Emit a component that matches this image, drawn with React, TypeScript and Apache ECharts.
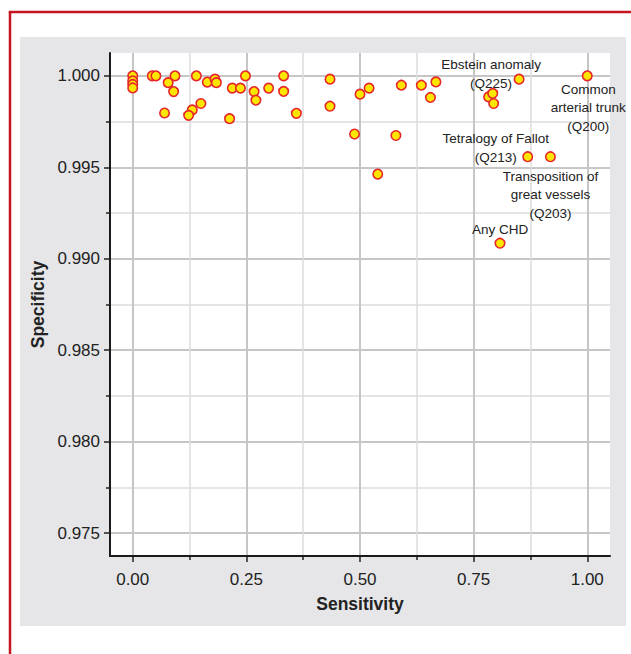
import React, { useEffect, useRef } from "react";
import * as echarts from "echarts";

// Sensitivity / specificity of each diagnosis code
const sensitivity = [
  0.0, 0.0, 0.0, 0.0, 0.043, 0.051, 0.093, 0.078, 0.09, 0.07,
  0.14, 0.164, 0.181, 0.184, 0.15, 0.131, 0.123, 0.248, 0.332, 0.434,
  0.219, 0.237, 0.267, 0.271, 0.299, 0.332, 0.213, 0.36, 0.434, 0.5,
  0.52, 0.591, 0.635, 0.667, 0.655, 0.488, 0.579, 0.539, 0.783, 0.792,
  0.794,
  // labelled points
  0.85, 1.0, 0.869, 0.919, 0.808,
];
const specificity = [
  1.0, 0.99973, 0.99953, 0.99934, 1.0, 1.0, 1.0, 0.99963, 0.99914, 0.99797,
  1.0, 0.99966, 0.99982, 0.99963, 0.99849, 0.99814, 0.99784, 1.0, 1.0, 0.99982,
  0.99933, 0.99933, 0.99914, 0.99867, 0.99933, 0.99915, 0.99766, 0.99795, 0.99834, 0.999,
  0.99933, 0.99949, 0.99949, 0.99967, 0.99882, 0.99682, 0.99674, 0.99463, 0.99885, 0.99904,
  0.99849,
  // labelled points
  0.99982, 1.0, 0.99558, 0.99558, 0.99085,
];
const pointLabels = [
  "Ebstein anomaly\n(Q225)",
  "Common\narterial trunk\n(Q200)",
  "Tetralogy of Fallot\n(Q213)",
  "Transposition of\ngreat vessels\n(Q203)",
  "Any CHD",
];
const xTickValues = [0, 0.25, 0.5, 0.75, 1.0];
const yTickValues = [0.975, 0.98, 0.985, 0.99, 0.995, 1.0];

// layout (not data)
const W = 631;
const H = 654;
const PLOT = { left: 110, right: 21, top: 53, bottom: 98 };
const X_MIN = -0.05;
const X_MAX = 1.05;
const Y_MIN = 0.97375;
const Y_MAX = 1.00125;
const LABEL_OFFSETS: [number, number][] = [
  [-28, -5],
  [1, 32],
  [-32, -8.5],
  [0, 38],
  [0, -14],
];
const FONT = "'Liberation Sans', Arial, Helvetica, sans-serif";

export default function App() {
  const ref = useRef<HTMLDivElement>(null);
  useEffect(() => {
    document.body.style.margin = "0";
    if (!ref.current) return;
    const chart = echarts.init(ref.current, undefined, { renderer: "svg" });

    const plotW = W - PLOT.left - PLOT.right;
    const plotH = H - PLOT.top - PLOT.bottom;
    const xPx = (v: number) => PLOT.left + ((v - X_MIN) / (X_MAX - X_MIN)) * plotW;
    const yPx = (v: number) => PLOT.top + ((Y_MAX - v) / (Y_MAX - Y_MIN)) * plotH;
    const xLo = xTickValues[0];
    const xHi = xTickValues[xTickValues.length - 1];
    const yLo = yTickValues[0];
    const yHi = yTickValues[yTickValues.length - 1];

    const nLab = pointLabels.length;
    const firstLab = sensitivity.length - nLab;
    const data = sensitivity.map((s, i) => {
      const item: any = { value: [s, specificity[i]] };
      if (i >= firstLab) {
        const k = i - firstLab;
        item.label = {
          show: true,
          formatter: pointLabels[k],
          position: "inside",
          offset: LABEL_OFFSETS[k],
          align: "center",
          verticalAlign: "middle",
          fontSize: 13.5,
          lineHeight: 18.5,
          color: "#222",
          fontFamily: FONT,
        };
      }
      return item;
    });

    const tickStyle = { color: "#222", width: 1.5 };
    const major = { show: true, lineStyle: { color: "#c6c6c6", width: 2 } };
    const minor = { show: true, lineStyle: { color: "#dcdcdc", width: 1.5 } };

    chart.setOption({
      animation: false,
      backgroundColor: "#ffffff",
      textStyle: { fontFamily: FONT },
      graphic: [
        {
          type: "rect",
          z: -10,
          shape: { x: 20, y: 37, width: 606, height: 589 },
          style: { fill: "#e6e6e8" },
        },
        {
          type: "line",
          shape: { x1: 10, y1: 12, x2: 10, y2: H },
          style: { stroke: "#c3161e", lineWidth: 2.5 },
        },
        {
          type: "line",
          shape: { x1: 8.75, y1: 12, x2: W, y2: 12 },
          style: { stroke: "#c3161e", lineWidth: 2.5 },
        },
      ],
      grid: [
        {
          ...PLOT,
          show: true,
          backgroundColor: "#ffffff",
          borderWidth: 0,
          z: -1,
          containLabel: false,
        },
        {
          left: PLOT.left,
          right: PLOT.right,
          top: yPx(yHi),
          bottom: H - yPx(yLo),
          containLabel: false,
        },
        {
          left: xPx(xLo),
          right: W - xPx(xHi),
          top: PLOT.top,
          bottom: PLOT.bottom,
          containLabel: false,
        },
      ],
      xAxis: [
        {
          gridIndex: 0,
          type: "value",
          min: X_MIN,
          max: X_MAX,
          z: 5,
          axisLine: { show: true, onZero: false, lineStyle: { color: "#1a1a1a", width: 2 } },
          axisTick: { show: false },
          axisLabel: { show: false },
          splitLine: { show: false },
        },
        { gridIndex: 1, type: "value", show: false, min: 0, max: 1 },
        {
          gridIndex: 2,
          type: "value",
          min: xLo,
          max: xHi,
          interval: 0.25,
          axisLine: { show: false, onZero: false },
          axisTick: { show: true, length: 6, lineStyle: tickStyle },
          minorTick: { show: true, splitNumber: 2, length: 4, lineStyle: tickStyle },
          axisLabel: {
            show: true,
            margin: 15,
            fontSize: 17,
            color: "#222",
            fontFamily: FONT,
            formatter: (v: number) => v.toFixed(2),
          },
          splitLine: major,
          minorSplitLine: minor,
          name: "Sensitivity",
          nameLocation: "middle",
          nameGap: 39,
          nameTextStyle: { fontSize: 17.5, fontWeight: "bold", color: "#222", fontFamily: FONT },
        },
      ],
      yAxis: [
        {
          gridIndex: 0,
          type: "value",
          min: Y_MIN,
          max: Y_MAX,
          z: 5,
          axisLine: { show: true, onZero: false, lineStyle: { color: "#1a1a1a", width: 2 } },
          axisTick: { show: false },
          axisLabel: { show: false },
          splitLine: { show: false },
        },
        {
          gridIndex: 1,
          type: "value",
          min: yLo,
          max: yHi,
          interval: 0.005,
          axisLine: { show: false, onZero: false },
          axisTick: { show: true, length: 6, lineStyle: tickStyle },
          minorTick: { show: true, splitNumber: 2, length: 4, lineStyle: tickStyle },
          axisLabel: {
            show: true,
            margin: 10,
            fontSize: 17,
            color: "#222",
            fontFamily: FONT,
            formatter: (v: number) => v.toFixed(3),
          },
          splitLine: major,
          minorSplitLine: minor,
          name: "Specificity",
          nameLocation: "middle",
          nameRotate: 90,
          nameGap: 62,
          nameTextStyle: { fontSize: 17.5, fontWeight: "bold", color: "#222", fontFamily: FONT },
        },
        { gridIndex: 2, type: "value", show: false, min: 0, max: 1 },
      ],
      series: [
        {
          type: "scatter",
          xAxisIndex: 0,
          yAxisIndex: 0,
          symbol: "circle",
          symbolSize: 9.5,
          clip: false,
          itemStyle: { color: "#ffe600", borderColor: "#e5262b", borderWidth: 1.6, opacity: 1 },
          emphasis: { disabled: true },
          data,
        },
      ],
    });
    return () => chart.dispose();
  }, []);
  return <div ref={ref} style={{ width: W, height: H }} />;
}
